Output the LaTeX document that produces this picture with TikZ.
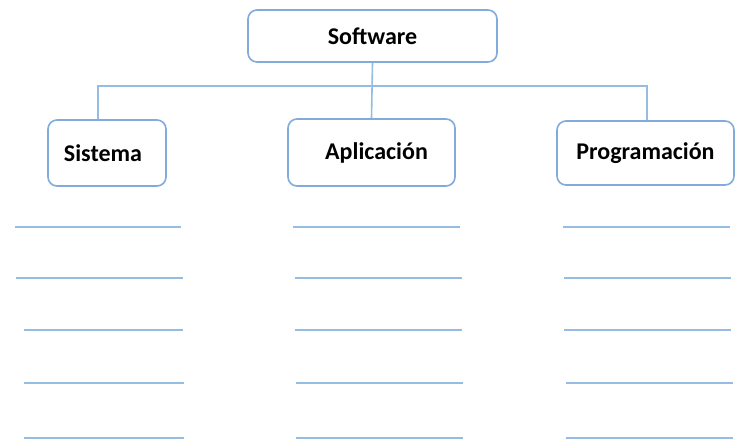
\documentclass[tikz,border=0pt]{standalone}
\usepackage{fontspec}
\setmainfont{Carlito}
\definecolor{linkblue}{RGB}{150, 188, 228}
\definecolor{boxblue}{RGB}{130, 170, 220}
\usetikzlibrary{positioning, calc}
\tikzset{
    catbox/.style={draw=boxblue, line width=1.6pt, rounded corners=9pt,
        fill=white, font=\fontsize{24}{28}\selectfont\bfseries, inner sep=0pt},
    link/.style={draw=linkblue, line width=1.6pt},
    blank/.style={draw=linkblue, line width=2pt},
}
\begin{document}
\begin{tikzpicture}[x=1pt, y=-1pt]
        \useasboundingbox[fill=white] (0, 0) rectangle (741, 440);
        \coordinate (busL) at (98, 86);
        \coordinate (busR) at (647, 86);
        \node[catbox, minimum width=249pt, minimum height=52pt] (soft)
            at (372.5, 36) {Software};
        \node[catbox, minimum width=118pt, minimum height=66pt] (sis)
            at (107, 153) {\hspace*{-8pt}Sistema};
        \node[catbox, minimum width=167pt, minimum height=67pt] (apl)
            at (371.5, 152.5) {\hspace*{10pt}Aplicación};
        \node[catbox, minimum width=177pt, minimum height=64pt] (prog)
            at (645.5, 153) {Programación};
        \draw[link] (sis.north -| busL) -- (busL) -- (busR)
            -- (prog.north -| busR);
        \draw[link] (soft.south) -- (apl.north);
        % lines to fill in under each box
        \foreach \y/\l/\lr/\m/\r in {227/15/181/293/563, 278/16/183/295/564,
                330/24/183/295/564, 383/24/184/296/566, 438/24/184/296/566} {
            \draw[blank] (\l, \y) -- (\lr, \y);
            \draw[blank] (\m, \y) -- ++(167, 0);
            \draw[blank] (\r, \y) -- ++(167, 0);
        }
    \end{tikzpicture}
\end{document}
